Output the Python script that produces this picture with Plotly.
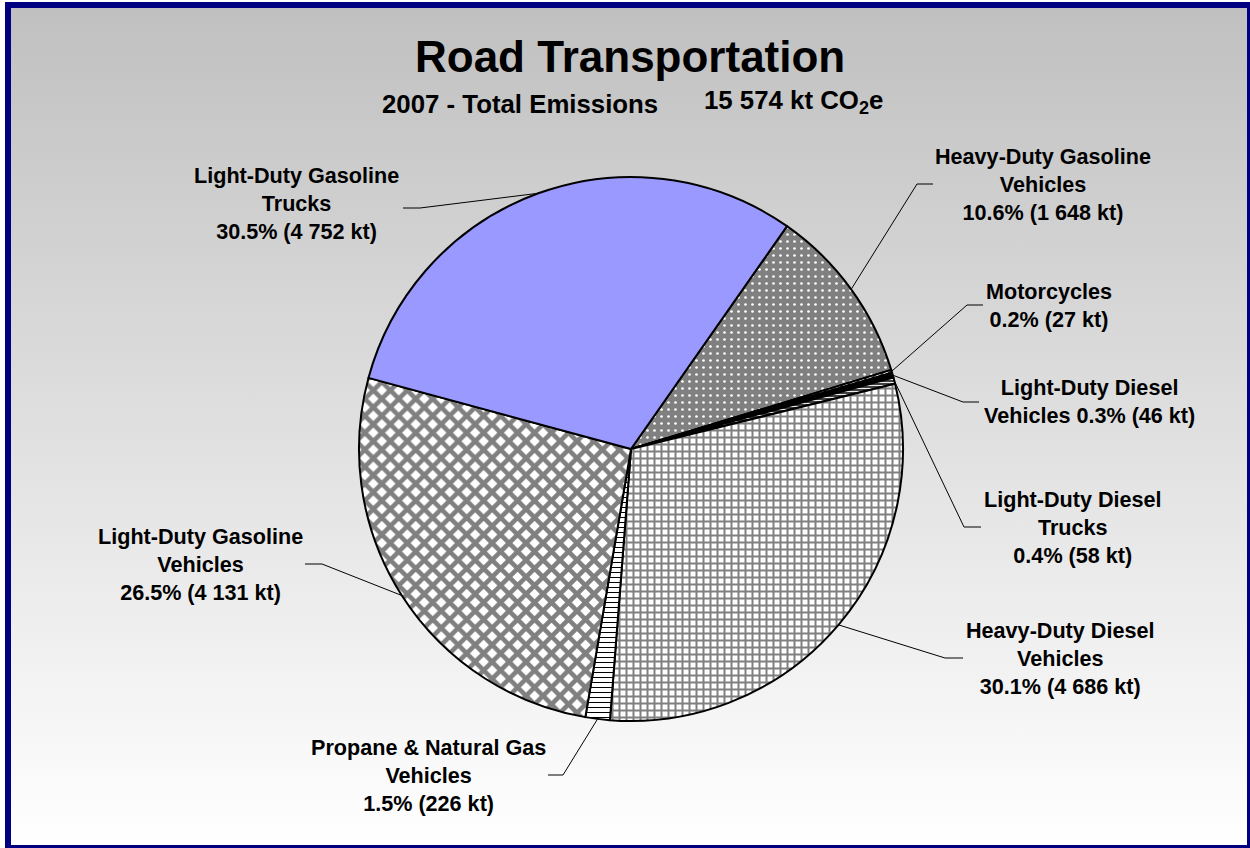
import math
import plotly.graph_objects as go

# ------------------------------------------------------------------ data
categories = [
    "Heavy-Duty Gasoline Vehicles",
    "Motorcycles",
    "Light-Duty Diesel Vehicles",
    "Light-Duty Diesel Trucks",
    "Heavy-Duty Diesel Vehicles",
    "Propane & Natural Gas Vehicles",
    "Light-Duty Gasoline Vehicles",
    "Light-Duty Gasoline Trucks",
]
emissions_kt = [1648, 27, 46, 58, 4686, 226, 4131, 4752]
total_emissions_kt = 15574

# display names as they are wrapped on the chart
label_names = [
    "Heavy-Duty Gasoline<br>Vehicles<br>",
    "Motorcycles<br>",
    "Light-Duty Diesel<br>Vehicles ",
    "Light-Duty Diesel<br>Trucks<br>",
    "Heavy-Duty Diesel<br>Vehicles<br>",
    "Propane & Natural Gas<br>Vehicles<br>",
    "Light-Duty Gasoline<br>Vehicles<br>",
    "Light-Duty Gasoline<br>Trucks<br>",
]

title_text = "Road Transportation"
subtitle_left = "2007 - Total Emissions"
subtitle_right = "15 574 kt CO<sub>2</sub>e"

# ------------------------------------------------------------------ layout / style
W, H = 1250, 848
CX, CY, R = 631, 449, 272          # pie centre / radius in pixels
START_ANGLE = 35                    # degrees clockwise from 12 o'clock

fill_colors = ["#808080", "#FFFFFF", "#000000", "#404040",
               "#FFFFFF", "#FFFFFF", "#FFFFFF", "#9999FF"]
pattern_shapes = [".", "/", "", "-", "+", "-", "x", ""]
pattern_fg = ["#FFFFFF", "#000000", "#000000", "#FFFFFF",
              "#808080", "#000000", "#808080", "#000000"]
pattern_size = [7, 4, 4, 3, 7, 5, 12, 8]
pattern_solidity = [0.12, 0.3, 0.3, 0.3, 0.49, 0.2, 0.62, 0.3]

# label block centres (pixels) and leader-line label-side points
label_pos = [(1043, 184), (1049, 305), (1089, 401), (1073, 527),
             (1060, 658), (428, 775), (200, 564), (296, 203)]
leader_start = [(933, 184), (983, 305), (979, 402), (981, 527),
                (963, 658), (548, 775), (305, 564), (403, 208)]
leader_bend = [(917, 184), (967, 305), (963, 402), (964, 527),
               (945, 658), (563, 775), (322, 564), (420, 208)]

FONT = "Liberation Sans, Arial, sans-serif"
LABEL_SIZE = 21.6

fig = go.Figure()

# background gradient panel (pixel-coordinate overlay axis)
fig.add_trace(go.Scatter(
    x=[11, W - 3, W - 3, 11, 11], y=[8, 8, H - 3, H - 3, 8],
    mode="lines", line=dict(width=0), fill="toself",
    fillgradient=dict(type="vertical", start=8, stop=H - 3,
                      colorscale=[[0, "#C0C0C0"], [1, "#FFFFFF"]]),
    hoverinfo="skip", showlegend=False,
))

# leader lines: from label to the slice's mid-angle on the pie edge
cum = 0.0
for i, v in enumerate(emissions_kt):
    mid = START_ANGLE + 360.0 * (cum + v / 2.0) / total_emissions_kt
    cum += v
    ex = CX + R * math.sin(math.radians(mid))
    ey = CY - R * math.cos(math.radians(mid))
    fig.add_trace(go.Scatter(
        x=[leader_start[i][0], leader_bend[i][0], ex],
        y=[leader_start[i][1], leader_bend[i][1], ey],
        mode="lines", line=dict(color="#000000", width=1),
        hoverinfo="skip", showlegend=False,
    ))

# pie
fig.add_trace(go.Pie(
    labels=categories, values=emissions_kt,
    sort=False, direction="clockwise", rotation=START_ANGLE,
    textinfo="none", hoverinfo="label+value+percent", showlegend=False,
    marker=dict(
        colors=fill_colors,
        line=dict(color="#000000", width=2),
        pattern=dict(shape=pattern_shapes, fgcolor=pattern_fg,
                     bgcolor=fill_colors, size=pattern_size,
                     solidity=pattern_solidity),
    ),
    domain=dict(x=[(CX - R) / W, (CX + R) / W],
                y=[1 - (CY + R) / H, 1 - (CY - R) / H]),
))

annotations = []
for i, v in enumerate(emissions_kt):
    pct = 100.0 * v / total_emissions_kt
    kt = f"{v:,}".replace(",", " ")
    annotations.append(dict(
        x=label_pos[i][0], y=label_pos[i][1], xref="x", yref="y",
        text=f"<b>{label_names[i]}{pct:.1f}% ({kt} kt)</b>",
        showarrow=False, xanchor="center", yanchor="middle", align="center",
        font=dict(family=FONT, size=LABEL_SIZE, color="#000000"),
    ))

annotations.append(dict(
    x=630, y=56, xref="x", yref="y", text=f"<b>{title_text}</b>",
    showarrow=False, xanchor="center", yanchor="middle",
    font=dict(family=FONT, size=44, color="#000000"),
))
annotations.append(dict(
    x=380, y=114, xref="x", yref="y", text=f"<b>{subtitle_left}</b>",
    showarrow=False, xanchor="left", yanchor="bottom", yshift=-6,
    font=dict(family=FONT, size=25.8, color="#000000"),
))
annotations.append(dict(
    x=702, y=114, xref="x", yref="y", text=f"<b>{subtitle_right}</b>",
    showarrow=False, xanchor="left", yanchor="bottom", yshift=-6,
    font=dict(family=FONT, size=25.8, color="#000000"),
))

fig.update_layout(
    width=W, height=H, autosize=False,
    margin=dict(l=0, r=0, t=0, b=0, pad=0),
    paper_bgcolor="#FFFFFF", plot_bgcolor="rgba(0,0,0,0)",
    xaxis=dict(range=[0, W], visible=False, fixedrange=True, domain=[0, 1]),
    yaxis=dict(range=[H, 0], visible=False, fixedrange=True, domain=[0, 1]),
    annotations=annotations,
    shapes=[dict(type="rect", xref="paper", yref="paper",
                 x0=8 / W, x1=1250 / W, y0=1 - 848 / H, y1=1 - 5 / H,
                 line=dict(color="#000080", width=6), fillcolor="rgba(0,0,0,0)",
                 layer="above")],
    showlegend=False,
)

fig.write_html(
    "out.html",
    config={"displayModeBar": False},
    post_script="document.body.style.margin='0';document.body.style.overflow='hidden';",
)
